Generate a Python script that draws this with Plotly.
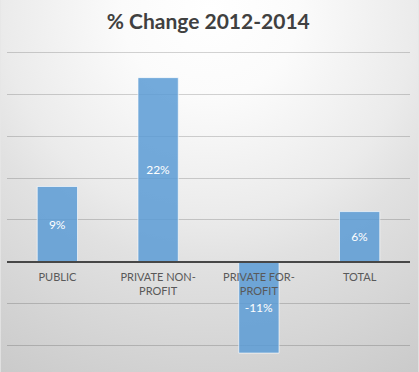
import plotly.graph_objects as go
from urllib.parse import quote

categories = ["PUBLIC", "PRIVATE NON-<br>PROFIT", "PRIVATE FOR-<br>PROFIT", "TOTAL"]
pct_change = [9.0, 22.0, -10.9, 6.0]
title_text = "% Change 2012-2014"

W, H = 419, 372
px_per_unit = 8.36
y_min, y_max = -13.16, 25.3
ML, MR, MB = 6.5, 8.5, 0
MT = H - MB - (y_max - y_min) * px_per_unit
pw, ph = W - ML - MR, H - MT - MB

svg = (
    f'<svg xmlns="http://www.w3.org/2000/svg" width="{W}" height="{H}">'
    '<defs><radialGradient id="g" gradientUnits="userSpaceOnUse" cx="210" cy="10" r="440">'
    '<stop offset="0" stop-color="#ffffff"/>'
    '<stop offset="0.2" stop-color="#fbfbfb"/>'
    '<stop offset="0.47" stop-color="#ebebeb"/>'
    '<stop offset="0.58" stop-color="#e1e1e1"/>'
    '<stop offset="0.97" stop-color="#c9c9c9"/>'
    '<stop offset="1" stop-color="#c6c6c6"/>'
    '</radialGradient></defs>'
    f'<rect width="{W}" height="{H}" fill="url(#g)"/></svg>'
)
bg_src = "data:image/svg+xml;charset=utf-8," + quote(svg)

fig = go.Figure(
    go.Bar(
        x=categories,
        y=pct_change,
        marker=dict(color="rgba(91,155,213,0.85)",
                    line=dict(color="rgba(255,255,255,0.65)", width=1)),
        texttemplate="%{y:.0f}%",
        textposition="inside",
        insidetextanchor="middle",
        textangle=0,
        constraintext="none",
        textfont=dict(color="white", size=12, family="Lato"),
        hoverinfo="skip",
    )
)

zero_pos = (0 - y_min) / (y_max - y_min)

fig.update_layout(
    width=W, height=H,
    margin=dict(l=ML, r=MR, t=MT, b=MB, pad=0),
    paper_bgcolor="#e6e6e6",
    plot_bgcolor="rgba(0,0,0,0)",
    bargap=0.6,
    showlegend=False,
    title=dict(text="<b>" + title_text + "</b>", x=0.497, xanchor="center",
               y=1 - 22 / H, yanchor="middle", yref="container",
               font=dict(family="Lato", size=21, color="#404040")),
    xaxis=dict(type="category", anchor="free", position=zero_pos,
               showgrid=False, showline=True, linecolor="#474747", linewidth=1.6,
               ticks="", ticklabelstandoff=5,
               tickfont=dict(family="Lato", size=11, color="#595959"),
               range=[-0.5, 3.5], fixedrange=True),
    yaxis=dict(range=[y_min, y_max], dtick=5, tick0=0, showticklabels=False,
               showgrid=True, gridcolor="rgba(0,0,0,0.17)", gridwidth=1,
               zeroline=False, showline=False, ticks="", fixedrange=True),
    images=[dict(source=bg_src, xref="paper", yref="paper",
                 x=-ML / pw, y=1 + MT / ph, sizex=W / pw, sizey=H / ph,
                 xanchor="left", yanchor="top", sizing="stretch", layer="below")],
)

fig.write_html("out.html", config={"displayModeBar": False},
               post_script="document.body.style.margin='0';")
